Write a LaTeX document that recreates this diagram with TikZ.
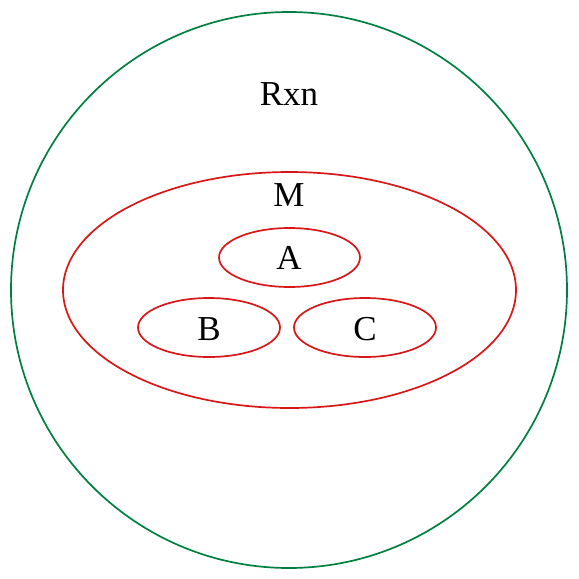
\documentclass[tikz,border=0pt]{standalone}
\usepackage{fontspec}
\setmainfont{Liberation Serif}
\definecolor{outg}{HTML}{008040}
\definecolor{inr}{HTML}{D81818}
\begin{document}
\begin{tikzpicture}[x=1pt,y=-1pt,
  lab/.style={inner sep=0pt,font=\fontsize{35}{35}\selectfont},
  grn/.style={draw=outg,line width=1.7pt},
  rd/.style={draw=inr,line width=1.7pt}]
\useasboundingbox (0,0) rectangle (579,579);
\draw[grn] (289,290) circle [radius=278];
\node[lab] (rxn) at (289,94) {Rxn};
\draw[rd] (289.5,290) ellipse [x radius=226.5, y radius=118];
\node[lab] (m) at (289,195) {M};
\draw[rd] (289.5,257.5) ellipse [x radius=70.5, y radius=29.5];
\node[lab] (a) at (289,258) {A};
\draw[rd] (209,327.5) ellipse [x radius=71, y radius=29.5];
\node[lab] (b) at (209,329) {B};
\draw[rd] (365,327.5) ellipse [x radius=71, y radius=29.5];
\node[lab] (c) at (365,329) {C};
\end{tikzpicture}
\end{document}
